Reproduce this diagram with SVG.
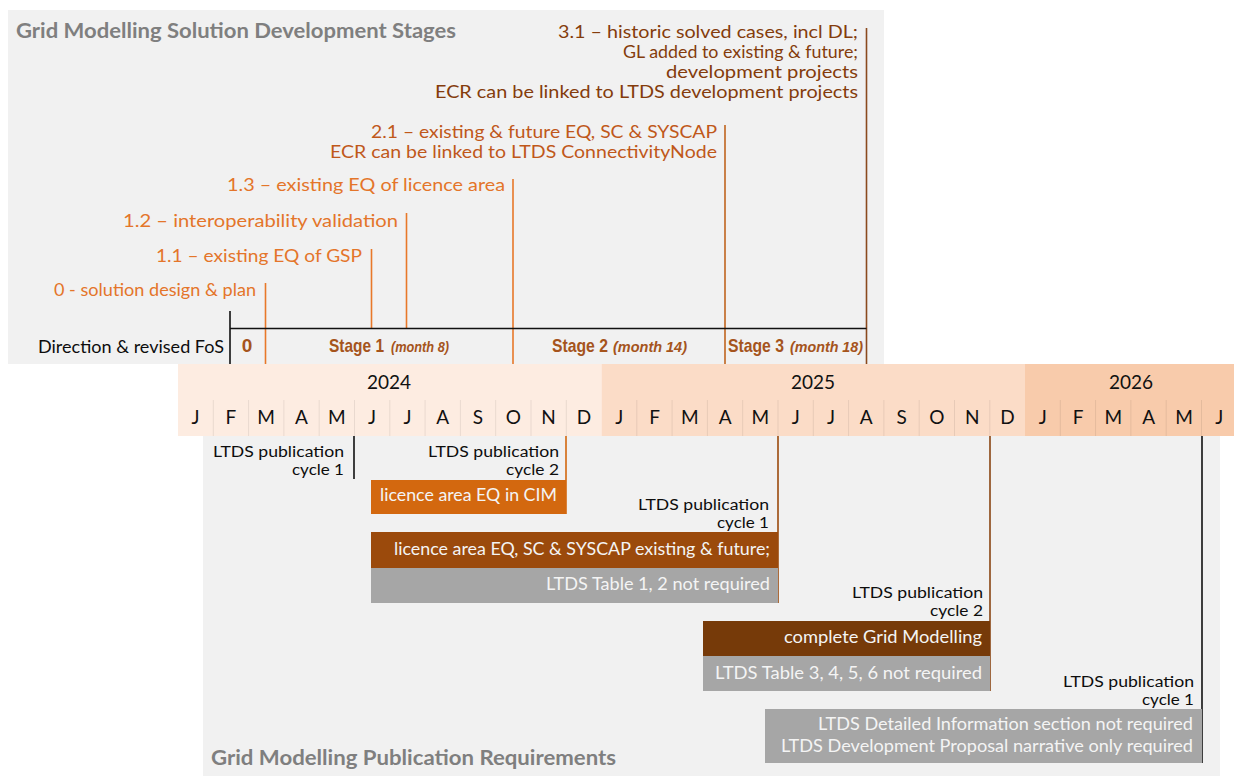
<svg xmlns="http://www.w3.org/2000/svg" width="1234" height="776" viewBox="0 0 1234 776">
<style>
text{font-family:Lato,"Open Sans","Liberation Sans",sans-serif;}
.ttl{font-size:21px;font-weight:bold;fill:#7f7f7f;}
.lbl{font-size:18px;}
.lbl3{font-size:17.5px;}
.lbl2{font-size:17px;}
.o{fill:#e4752a;}
.b2{fill:#c0581a;}
.b3{fill:#843c0c;}
.stg{font-family:"Liberation Sans",Arial,sans-serif;font-weight:bold;font-size:19px;fill:#a5541c;}
.mo{font-family:"Liberation Sans",Arial,sans-serif;font-weight:bold;font-style:italic;font-size:15px;fill:#a5541c;}
.body{font-size:17px;fill:#0d0d0d;}
.cyc{font-size:15.5px;fill:#0d0d0d;}
.bx{font-size:17px;fill:#f4f4f4;}
.yr{font-size:19px;fill:#111;text-anchor:middle;}
.mn{font-size:19px;fill:#111;text-anchor:middle;}
.sep{stroke:#000;stroke-opacity:0.08;stroke-width:1;}
.ln{fill:none;stroke-width:1.6;}
</style>

<g id="panels">
<rect x="8" y="10" width="876" height="354" fill="#f1f1f1"/>
<rect x="203" y="436" width="1017" height="340" fill="#f1f1f1"/>
</g>

<g id="titles">
<text class="ttl" x="16" y="38" textLength="440" lengthAdjust="spacingAndGlyphs">Grid Modelling Solution Development Stages</text>
<text class="ttl" x="211" y="765" textLength="405" lengthAdjust="spacingAndGlyphs">Grid Modelling Publication Requirements</text>
</g>

<g id="connectors">
<line class="ln" x1="866.5" y1="28" x2="866.5" y2="364" stroke="#8b4a1e"/>
<line class="ln" x1="725" y1="125" x2="725" y2="364" stroke="#c0651f"/>
<line class="ln" x1="513" y1="179" x2="513" y2="364" stroke="#e8782a"/>
<line class="ln" x1="406.5" y1="213" x2="406.5" y2="329" stroke="#e8782a"/>
<line class="ln" x1="371.5" y1="249" x2="371.5" y2="329" stroke="#e8782a"/>
<line class="ln" x1="265.5" y1="283" x2="265.5" y2="364" stroke="#e8782a"/>
<line class="ln" x1="230" y1="311" x2="230" y2="364" stroke="#111"/>
<line class="ln" x1="230" y1="328.5" x2="866.5" y2="328.5" stroke="#111"/>
<line class="ln" x1="354" y1="436" x2="354" y2="479" stroke="#111"/>
<line class="ln" x1="566" y1="436" x2="566" y2="514" stroke="#d3680f"/>
<line class="ln" x1="778" y1="436" x2="778" y2="603" stroke="#9b4a0c"/>
<line class="ln" x1="990" y1="436" x2="990" y2="691" stroke="#8a4512"/>
<line class="ln" x1="1202" y1="436" x2="1202" y2="763" stroke="#111"/>
</g>

<g id="stage-3-1">
<text class="lbl3 b3"><tspan x="558" y="38" textLength="300" lengthAdjust="spacingAndGlyphs">3.1 – historic solved cases, incl DL;</tspan><tspan x="623" y="58" textLength="235" lengthAdjust="spacingAndGlyphs">GL added to existing &amp; future;</tspan><tspan x="666" y="78" textLength="192" lengthAdjust="spacingAndGlyphs">development projects</tspan><tspan x="435" y="98" textLength="423" lengthAdjust="spacingAndGlyphs">ECR can be linked to LTDS development projects</tspan></text>
</g>
<g id="stage-2-1">
<text class="lbl2 b2"><tspan x="371" y="138" textLength="346" lengthAdjust="spacingAndGlyphs">2.1 – existing &amp; future EQ, SC &amp; SYSCAP</tspan><tspan x="330" y="157.5" textLength="387" lengthAdjust="spacingAndGlyphs">ECR can be linked to LTDS ConnectivityNode</tspan></text>
</g>
<g id="stage-1-3"><text class="lbl o" x="227" y="191" textLength="278" lengthAdjust="spacingAndGlyphs">1.3 – existing EQ of licence area</text></g>
<g id="stage-1-2"><text class="lbl o" x="123" y="227" textLength="275" lengthAdjust="spacingAndGlyphs">1.2 – interoperability validation</text></g>
<g id="stage-1-1"><text class="lbl o" x="156" y="262" textLength="206" lengthAdjust="spacingAndGlyphs">1.1 – existing EQ of GSP</text></g>
<g id="stage-0"><text class="lbl o" x="54" y="296" textLength="202" lengthAdjust="spacingAndGlyphs">0 - solution design &amp; plan</text></g>

<g id="stage-bar">
<text class="body" x="38" y="353" textLength="186" lengthAdjust="spacingAndGlyphs">Direction &amp; revised FoS</text>
<text class="stg" x="247" y="352" text-anchor="middle">0</text>
<text class="stg" x="329" y="352" textLength="55" lengthAdjust="spacingAndGlyphs">Stage 1</text>
<text class="mo" x="391" y="352" textLength="58" lengthAdjust="spacingAndGlyphs">(month 8)</text>
<text class="stg" x="552" y="352" textLength="56" lengthAdjust="spacingAndGlyphs">Stage 2</text>
<text class="mo" x="613" y="352" textLength="74" lengthAdjust="spacingAndGlyphs">(month 14)</text>
<text class="stg" x="728" y="352" textLength="56" lengthAdjust="spacingAndGlyphs">Stage 3</text>
<text class="mo" x="790" y="352" textLength="73" lengthAdjust="spacingAndGlyphs">(month 18)</text>
</g>

<g id="timeline">
<rect x="178" y="364" width="423.5" height="72" fill="#fdece1"/>
<rect x="601.5" y="364" width="423.5" height="72" fill="#fbdcc7"/>
<rect x="1025" y="364" width="209" height="72" fill="#f8cbab"/>
<text class="yr" x="389" y="389">2024</text>
<text class="yr" x="813" y="389">2025</text>
<text class="yr" x="1131" y="389">2026</text>
<g class="sep">
<line x1="213.3" y1="400" x2="213.3" y2="436"/><line x1="248.6" y1="400" x2="248.6" y2="436"/><line x1="283.9" y1="400" x2="283.9" y2="436"/><line x1="319.2" y1="400" x2="319.2" y2="436"/><line x1="354.5" y1="400" x2="354.5" y2="436"/><line x1="389.8" y1="400" x2="389.8" y2="436"/><line x1="425.1" y1="400" x2="425.1" y2="436"/><line x1="460.4" y1="400" x2="460.4" y2="436"/><line x1="495.7" y1="400" x2="495.7" y2="436"/><line x1="531" y1="400" x2="531" y2="436"/><line x1="566.3" y1="400" x2="566.3" y2="436"/>
<line x1="636.8" y1="400" x2="636.8" y2="436"/><line x1="672.1" y1="400" x2="672.1" y2="436"/><line x1="707.4" y1="400" x2="707.4" y2="436"/><line x1="742.7" y1="400" x2="742.7" y2="436"/><line x1="778" y1="400" x2="778" y2="436"/><line x1="813.3" y1="400" x2="813.3" y2="436"/><line x1="848.6" y1="400" x2="848.6" y2="436"/><line x1="883.9" y1="400" x2="883.9" y2="436"/><line x1="919.2" y1="400" x2="919.2" y2="436"/><line x1="954.5" y1="400" x2="954.5" y2="436"/><line x1="989.8" y1="400" x2="989.8" y2="436"/>
<line x1="1060.3" y1="400" x2="1060.3" y2="436"/><line x1="1095.6" y1="400" x2="1095.6" y2="436"/><line x1="1130.9" y1="400" x2="1130.9" y2="436"/><line x1="1166.2" y1="400" x2="1166.2" y2="436"/><line x1="1201.5" y1="400" x2="1201.5" y2="436"/>
</g>
<text class="mn" x="195.6" y="424">J</text><text class="mn" x="230.9" y="424">F</text><text class="mn" x="266.2" y="424">M</text><text class="mn" x="301.5" y="424">A</text><text class="mn" x="336.8" y="424">M</text><text class="mn" x="372.1" y="424">J</text><text class="mn" x="407.4" y="424">J</text><text class="mn" x="442.7" y="424">A</text><text class="mn" x="478" y="424">S</text><text class="mn" x="513.3" y="424">O</text><text class="mn" x="548.6" y="424">N</text><text class="mn" x="583.9" y="424">D</text>
<text class="mn" x="619.2" y="424">J</text><text class="mn" x="654.5" y="424">F</text><text class="mn" x="689.8" y="424">M</text><text class="mn" x="725.1" y="424">A</text><text class="mn" x="760.4" y="424">M</text><text class="mn" x="795.7" y="424">J</text><text class="mn" x="831" y="424">J</text><text class="mn" x="866.3" y="424">A</text><text class="mn" x="901.6" y="424">S</text><text class="mn" x="936.9" y="424">O</text><text class="mn" x="972.2" y="424">N</text><text class="mn" x="1007.5" y="424">D</text>
<text class="mn" x="1042.8" y="424">J</text><text class="mn" x="1078.1" y="424">F</text><text class="mn" x="1113.4" y="424">M</text><text class="mn" x="1148.7" y="424">A</text><text class="mn" x="1184" y="424">M</text><text class="mn" x="1219.3" y="424">J</text>
</g>

<g id="pub-2024-c1">
<text class="cyc"><tspan x="213" y="457" textLength="131" lengthAdjust="spacingAndGlyphs">LTDS publication</tspan><tspan x="292" y="474.5" textLength="52" lengthAdjust="spacingAndGlyphs">cycle 1</tspan></text>
</g>
<g id="pub-2024-c2">
<text class="cyc"><tspan x="428" y="457" textLength="131" lengthAdjust="spacingAndGlyphs">LTDS publication</tspan><tspan x="506" y="474.5" textLength="53" lengthAdjust="spacingAndGlyphs">cycle 2</tspan></text>
<rect x="371" y="480" width="195" height="34" fill="#d3680f"/>
<text class="bx" x="380" y="501" textLength="177" lengthAdjust="spacingAndGlyphs">licence area EQ in CIM</text>
</g>
<g id="pub-2025-c1">
<text class="cyc"><tspan x="638" y="510" textLength="131" lengthAdjust="spacingAndGlyphs">LTDS publication</tspan><tspan x="717" y="527.5" textLength="52" lengthAdjust="spacingAndGlyphs">cycle 1</tspan></text>
<rect x="371" y="532" width="407" height="36" fill="#9b4a0c"/>
<text class="bx" x="394" y="555" textLength="376" lengthAdjust="spacingAndGlyphs">licence area EQ, SC &amp; SYSCAP existing &amp; future;</text>
<rect x="371" y="568" width="407" height="35" fill="#a6a6a6"/>
<text class="bx" x="546" y="590" textLength="224" lengthAdjust="spacingAndGlyphs">LTDS Table 1, 2 not required</text>
</g>
<g id="pub-2025-c2">
<text class="cyc"><tspan x="852" y="598" textLength="131" lengthAdjust="spacingAndGlyphs">LTDS publication</tspan><tspan x="930" y="615.5" textLength="53" lengthAdjust="spacingAndGlyphs">cycle 2</tspan></text>
<rect x="703" y="621" width="287" height="35" fill="#763a09"/>
<text class="bx" x="784" y="643" textLength="198" lengthAdjust="spacingAndGlyphs">complete Grid Modelling</text>
<rect x="703" y="656" width="287" height="35" fill="#a6a6a6"/>
<text class="bx" x="715" y="679" textLength="267" lengthAdjust="spacingAndGlyphs">LTDS Table 3, 4, 5, 6  not required</text>
</g>
<g id="pub-2026-c1">
<text class="cyc"><tspan x="1063" y="687" textLength="131" lengthAdjust="spacingAndGlyphs">LTDS publication</tspan><tspan x="1142" y="704.5" textLength="52" lengthAdjust="spacingAndGlyphs">cycle 1</tspan></text>
<rect x="765" y="709" width="437" height="54" fill="#a6a6a6"/>
<text class="bx"><tspan x="818" y="730" textLength="375" lengthAdjust="spacingAndGlyphs">LTDS Detailed Information section not required</tspan><tspan x="781" y="752" textLength="412" lengthAdjust="spacingAndGlyphs">LTDS Development Proposal narrative only required</tspan></text>
</g>
</svg>
